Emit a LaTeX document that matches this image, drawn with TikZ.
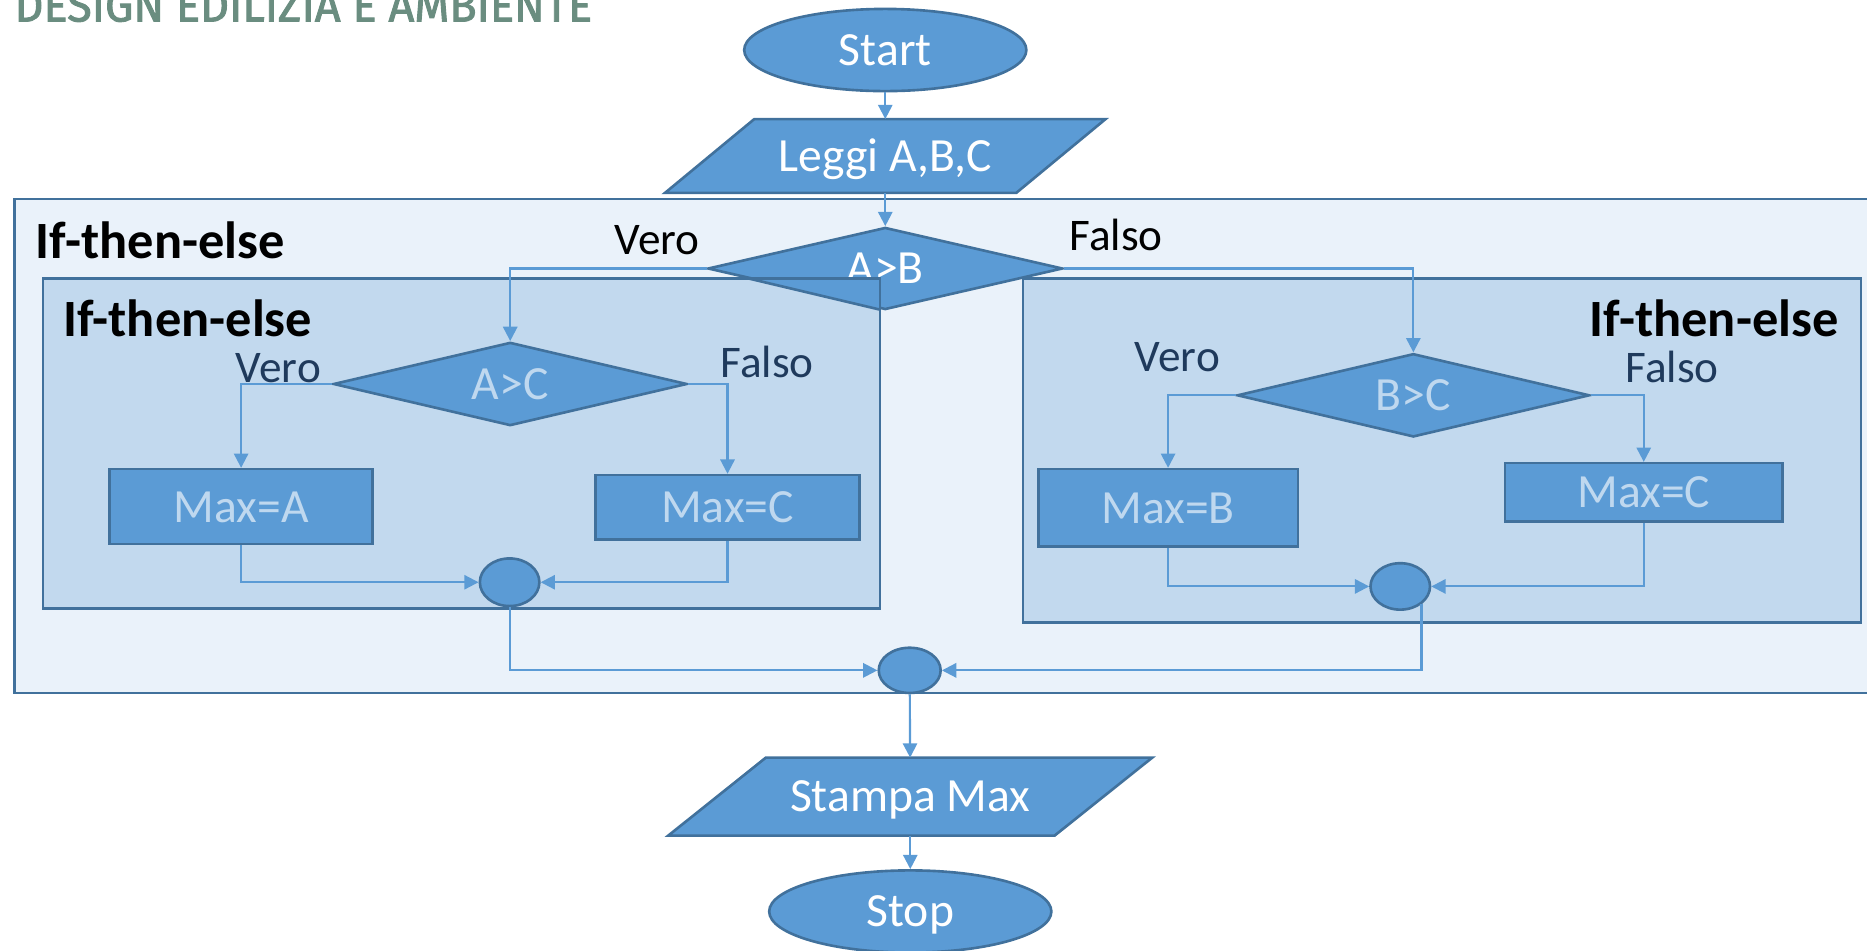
\documentclass[tikz,border=0pt]{standalone}
\usepackage{fontspec}
\setmainfont{Carlito}
\newfontfamily\headfont{Fira Sans}[FakeBold=2]
\usetikzlibrary{shapes.geometric,arrows.meta}

\definecolor{shapefill}{HTML}{5B9BD5}
\definecolor{shapeline}{HTML}{41719C}
\definecolor{outerfill}{HTML}{EAF2FA}
\definecolor{innerfill}{HTML}{C2D9EE}
\definecolor{pale}{HTML}{BFD8EF}
\definecolor{navy}{HTML}{1F3A5C}
\definecolor{headgreen}{HTML}{6A8D80}

\pgfdeclarelayer{back}
\pgfsetlayers{back,main}

\tikzset{
  flow/.style={fill=shapefill, draw=shapeline, line width=2.2pt, text=white,
    font=\fontsize{40pt}{48pt}\selectfont, text height=25.8pt, text depth=0pt,
    inner sep=0pt},
  terminal/.style={flow, ellipse, minimum width=237pt, minimum height=69pt},
  iotext/.style={rectangle, text=white, font=\fontsize{40pt}{48pt}\selectfont,
    text height=25.8pt, text depth=0pt, inner sep=0pt, outer sep=0pt},
  ioshape/.style={fill=shapefill, draw=shapeline, line width=2.2pt},
  decision/.style={flow, diamond, aspect=4.3},
  process/.style={flow, rectangle},
  junction/.style={fill=shapefill, draw=shapeline, line width=2.2pt, ellipse,
    inner sep=0pt, minimum width=50pt, minimum height=40pt},
  nested/.style={text=pale},
  conn/.style={draw=shapefill, line width=1.8pt, -{Triangle[length=12pt,width=12pt]}},
  caption/.style={font=\fontsize{38pt}{46pt}\selectfont, inner sep=0pt, anchor=base west},
  boxtitle/.style={font=\bfseries\fontsize{44pt}{52pt}\selectfont, inner sep=0pt, anchor=base west},
  region/.style={rectangle, draw=shapeline, line width=2.2pt, inner sep=0pt, outer sep=0pt},
  regionedge/.style={draw=shapeline, line width=2.2pt}
}

\begin{document}
\begin{tikzpicture}[x=1pt, y=-1pt]
\useasboundingbox (0,0) rectangle (1568,798);
\clip (0,0) rectangle (1568,798);

% heading
\node[anchor=base west, inner sep=0pt, text=headgreen] (head) at (12,18)
  {\resizebox{485pt}{27pt}{\headfont DESIGN EDILIZIA E AMBIENTE}};

% nested if-then-else regions
\node[region, fill=outerfill, minimum width=1563pt, minimum height=415pt] (outer) at (793.5,374.5) {};
\node[region, fill=innerfill, minimum width=703pt, minimum height=277pt] (inL) at (387.5,372.5) {};
\node[region, fill=innerfill, minimum width=704pt, minimum height=289pt] (inR) at (1211,378.5) {};

\node[boxtitle] (t0) at (30,217) {If-then-else};
\node[boxtitle] (t1) at (53,283) {If-then-else};
\node[boxtitle] (t2) at (1335,283) {If-then-else};

\node[caption] (v0) at (516,214) {Vero};
\node[caption] (f0) at (898,210) {Falso};
\node[caption, text=navy] (v1) at (198,321) {Vero};
\node[caption, text=navy] (f1) at (605,317) {Falso};
\node[caption, text=navy] (v2) at (953,312) {Vero};
\node[caption, text=navy] (f2) at (1365,321) {Falso};

% main flow
\node[terminal] (start) at (743.5,42) {Start};
\node[iotext, minimum width=295pt, minimum height=62pt] (leggi) at (743.5,131) {Leggi A,B,C};
\node[decision, minimum width=298pt, minimum height=69pt] (ab) at (743.5,225.5) {A>B};

% left branch
\node[decision, nested, minimum width=297pt, minimum height=70pt] (ac) at (428.5,322.5) {A>C};
\node[process, nested, minimum width=221pt, minimum height=63pt] (maxa) at (202.5,425.5) {Max=A};
\node[process, nested, minimum width=222pt, minimum height=54pt] (maxc1) at (611,426) {Max=C};
\node[junction] (j1) at (428,489) {};

% right branch
\node[decision, nested, minimum width=296pt, minimum height=70pt] (bc) at (1187,332) {B>C};
\node[process, nested, minimum width=218pt, minimum height=65pt] (maxb) at (981,426.5) {Max=B};
\node[process, nested, minimum width=233pt, minimum height=49pt] (maxc2) at (1380.5,413.5) {Max=C};
\node[junction, minimum height=39pt] (j2) at (1176,492.5) {};

% merge and output
\node[junction, minimum width=52pt, minimum height=38pt] (j3) at (764,563) {};
\node[iotext, minimum width=324.5pt, minimum height=65.5pt] (stampa) at (764.5,669) {Stampa Max};
\node[terminal] (stop) at (764.5,765.5) {Stop};

% input/output parallelograms behind their labels
\begin{pgfonlayer}{back}
\path[ioshape] ([xshift=-37.5pt]leggi.south west) -- ([xshift=37.5pt]leggi.north west)
  -- ([xshift=37.5pt]leggi.north east) -- ([xshift=-37.5pt]leggi.south east) -- cycle;
\path[ioshape] ([xshift=-41pt]stampa.south west) -- ([xshift=41pt]stampa.north west)
  -- ([xshift=41pt]stampa.north east) -- ([xshift=-41pt]stampa.south east) -- cycle;
\end{pgfonlayer}

% the left region covers the lower left corner of the first decision
\begin{scope}
\clip (inL.north west) rectangle (inL.south east);
\path[fill=shapefill, draw=shapeline, line width=2.2pt]
  (ab.north) -- (ab.east) -- (ab.south) -- (ab.west) -- cycle;
\end{scope}
\draw[regionedge] ([xshift=-150pt]inL.north east) -- (inL.north east) -- ([yshift=-45pt]inL.north east);

% connectors
\draw[conn] (start) -- (leggi);
\draw[conn] (leggi) -- (ab);
\draw[conn] (ab.west) -| (ac.north);
\draw[conn] (ab.east) -| (bc.north);
\draw[conn] (ac.west) -| (maxa.north);
\draw[conn] (ac.east) -| (maxc1.north);
\draw[conn] (maxa.south) |- (j1.west);
\draw[conn] (maxc1.south) |- (j1.east);
\draw[conn] (bc.west) -| (maxb.north);
\draw[conn] (bc.east) -| (maxc2.north);
\draw[conn] (maxb.south) |- (j2.west);
\draw[conn] (maxc2.south) |- (j2.east);
\draw[conn] (j1.south) |- (j3.west);
\draw[conn] (j2.-40) |- (j3.east);
\draw[conn] (j3) -- (stampa);
\draw[conn] (stampa) -- (stop);
\end{tikzpicture}
\end{document}
